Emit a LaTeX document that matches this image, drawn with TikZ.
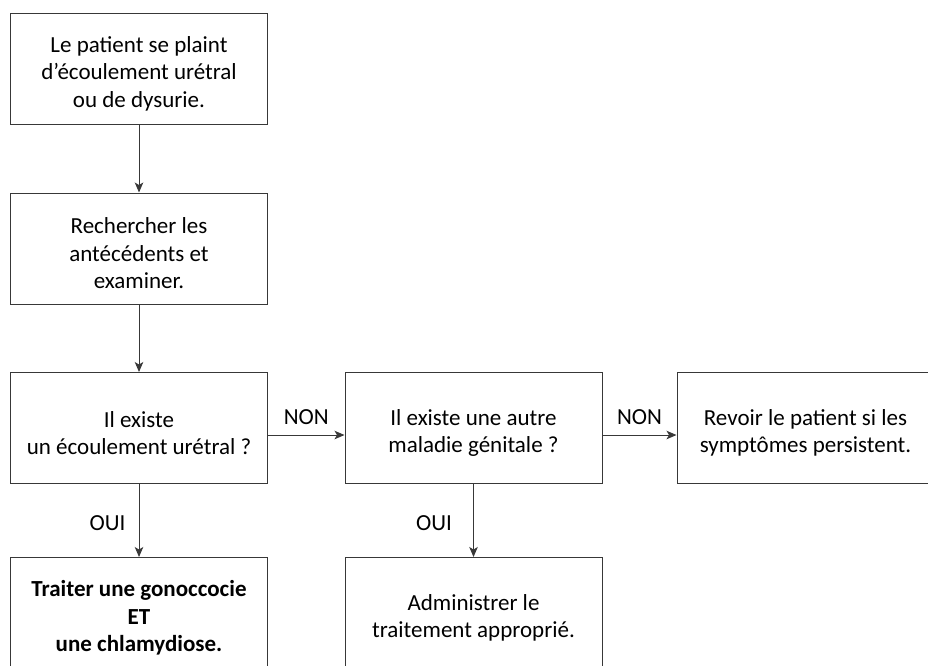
\documentclass[tikz,border=0pt]{standalone}
\usepackage{fontspec}
\setmainfont{Carlito}
\usetikzlibrary{arrows.meta}
\begin{document}
\begin{tikzpicture}[x=1pt,y=-1pt,
  box/.style={draw=black!78, line width=1pt, minimum width=257pt, minimum height=111pt, inner sep=0pt},
  boxtext/.style={inner sep=0pt, align=center, font=\fontsize{23}{27.5}\selectfont, text=black, yshift=-5pt},
  arr/.style={draw=black!78, line width=1pt, -{Stealth[length=10pt,width=8.5pt,inset=2.5pt]}},
  lab/.style={inner sep=0pt, font=\fontsize{23}{27.5}\selectfont, text=black}]
\useasboundingbox (0,0) rectangle (928,665);
\node[box, label={[boxtext]center:{Le patient se plaint\\d’écoulement urétral\\ou de dysurie.}}] (b1) at (139,68.5) {};
\node[box, label={[boxtext]center:{Rechercher les\\antécédents et\\examiner.}}] (b2) at (139,248.5) {};
\node[box, label={[boxtext]center:{Il existe\\un écoulement urétral ?}}] (b3) at (139,428) {};
\node[box, label={[boxtext]center:{Il existe une autre\\maladie génitale ?}}] (b4) at (473.5,428) {};
\node[box, label={[boxtext]center:{Revoir le patient si les\\symptômes persistent.}}] (b5) at (805.5,428) {};
\node[box, label={[boxtext, font=\fontsize{23}{27.5}\selectfont\bfseries]center:{Traiter une gonoccocie\\ET\\une chlamydiose.}}] (b6) at (139,613) {};
\node[box, label={[boxtext]center:{Administrer le\\traitement approprié.}}] (b7) at (473.5,613) {};
\draw[arr] (b1) -- (b2);
\draw[arr] (b2) -- (b3);
\draw[arr] (b3) -- node[lab, left=13pt, yshift=-2.5pt] {OUI} (b6);
\draw[arr] (b4) -- node[lab, left=21pt, yshift=-2.5pt] {OUI} (b7);
\draw[arr] ([yshift=-7pt]b3.east) -- node[lab, above=9.6pt] {NON} ([yshift=-7pt]b4.west);
\draw[arr] ([yshift=-7pt]b4.east) -- node[lab, above=9.6pt] {NON} ([yshift=-7pt]b5.west);
\end{tikzpicture}
\end{document}
